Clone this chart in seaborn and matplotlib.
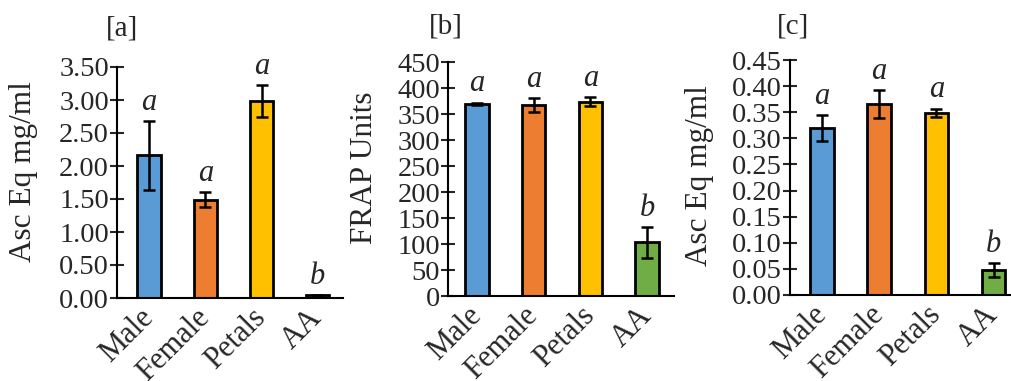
import matplotlib
matplotlib.use("Agg")
import matplotlib.pyplot as plt
import seaborn as sns
import pandas as pd

categories = ["Male", "Female", "Petals", "AA"]
colors = ["#5B9BD5", "#ED7D31", "#FFC000", "#70AD47"]

vals_a = [2.16, 1.49, 2.98, 0.04]
err_a = [0.52, 0.11, 0.245, 0.01]
letters_a = ["a", "a", "a", "b"]

vals_b = [370, 367, 374, 103]
err_b = [2, 14, 8, 29]
letters_b = ["a", "a", "a", "b"]

vals_c = [0.320, 0.366, 0.349, 0.048]
err_c = [0.025, 0.027, 0.008, 0.013]
letters_c = ["a", "a", "a", "b"]

titles = ["[a]", "[b]", "[c]"]
ylabels = ["Asc Eq mg/ml", "FRAP Units", "Asc Eq mg/ml"]
yticks_a = [0.0, 0.5, 1.0, 1.5, 2.0, 2.5, 3.0, 3.5]
yticks_b = [0, 50, 100, 150, 200, 250, 300, 350, 400, 450]
yticks_c = [0.0, 0.05, 0.10, 0.15, 0.20, 0.25, 0.30, 0.35, 0.40, 0.45]
fmt = ["{:.2f}", "{:.0f}", "{:.2f}"]

sns.set_theme(style="ticks")
plt.rcParams["font.family"] = ["Liberation Serif", "DejaVu Serif"]

W, H = 1011, 381
fig = plt.figure(figsize=(W / 100, H / 100), dpi=100)

# layout in pixels: left, right, top, bottom, first centre, spacing
layouts = [
    (117, 343, 67, 298, 149, 56.3),
    (448, 674, 62, 296, 477, 56.7),
    (790, 1018, 60, 295, 822, 57.2),
]
title_pos = [(122, 29), (446, 27), (793, 27)]
ylabel_pos = [(24, 172), (365, 168), (700, 176)]

data = [(vals_a, err_a, letters_a, yticks_a),
        (vals_b, err_b, letters_b, yticks_b),
        (vals_c, err_c, letters_c, yticks_c)]

for i, (vals, errs, lets, yt) in enumerate(data):
    l, r, t, b, c0, sp = layouts[i]
    ax = fig.add_axes([l / W, 1 - b / H, (r - l) / W, (b - t) / H])
    df = pd.DataFrame({"cat": categories, "val": vals})
    sns.barplot(data=df, x="cat", y="val", hue="cat", palette=colors,
                legend=False, width=0.41, edgecolor="black", linewidth=2,
                saturation=1, ax=ax, order=categories)
    xs = list(range(len(categories)))
    ax.errorbar(xs, vals, yerr=errs, fmt="none", ecolor="black",
                elinewidth=1.8, capsize=4.5, capthick=1.8, zorder=5)
    for x, v, e, s in zip(xs, vals, errs, lets):
        ax.annotate(s, (x, v + e), xytext=(0, 3), textcoords="offset points",
                    ha="center", va="bottom", fontsize=22, style="italic")
    ax.set_xlim(-(c0 - l) / sp, (r - c0) / sp)
    ax.set_ylim(yt[0], yt[-1])
    ax.set_yticks(yt)
    ax.set_yticklabels([fmt[i].format(v) for v in yt], fontsize=20.5)
    ax.set_xlabel("")
    ax.set_ylabel("")
    ax.set_xticks(xs)
    ax.set_xticklabels(categories, fontsize=22, rotation=45, ha="right",
                       va="center", rotation_mode="anchor")
    ax.tick_params(axis="x", length=0, pad=11)
    ax.tick_params(axis="y", direction="inout", length=9.5, width=1.5, pad=1)
    for s in ["top", "right"]:
        ax.spines[s].set_visible(False)
    for s in ["left", "bottom"]:
        ax.spines[s].set_linewidth(1.5)
        ax.spines[s].set_color("black")
    ax.patch.set_alpha(0)
    fig.text(title_pos[i][0] / W, 1 - title_pos[i][1] / H, titles[i],
             ha="center", va="center", fontsize=21)
    fig.text(ylabel_pos[i][0] / W, 1 - ylabel_pos[i][1] / H, ylabels[i],
             ha="center", va="center", rotation=90, fontsize=22.5)

fig.savefig("out.png", dpi=100)
